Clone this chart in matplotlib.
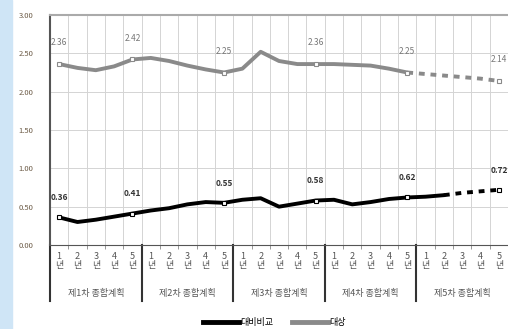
import numpy as np
import matplotlib.pyplot as plt
from matplotlib.lines import Line2D
from matplotlib.patches import Rectangle

plt.rcParams['font.family'] = ['Noto Sans CJK KR', 'DejaVu Sans']

plans = ['제1차 종합계획', '제2차 종합계획', '제3차 종합계획', '제4차 종합계획', '제5차 종합계획']
years = ['1년', '2년', '3년', '4년', '5년']

# 대상 (gray) and 대비비교 (black), one value per plan year
target = [2.36, 2.31, 2.28, 2.33, 2.42,
          2.44, 2.40, 2.34, 2.29, 2.25,
          2.30, 2.52, 2.40, 2.36, 2.36,
          2.36, 2.35, 2.34, 2.30, 2.25,
          2.23, 2.21, 2.19, 2.17, 2.14]
compare = [0.36, 0.30, 0.33, 0.37, 0.41,
           0.45, 0.48, 0.53, 0.56, 0.55,
           0.59, 0.61, 0.50, 0.54, 0.58,
           0.59, 0.53, 0.56, 0.60, 0.62,
           0.63, 0.65, 0.68, 0.70, 0.72]
solid_end_target = 19
solid_end_compare = 21
labelled = [0, 4, 9, 14, 19, 24]

n = len(target)
x = np.arange(n)

fig = plt.figure(figsize=(5.08, 3.29), dpi=100)
fig.patches.append(Rectangle((0, 0), 12 / 508, 1, transform=fig.transFigure,
                             color='#cfe5f6', zorder=0))
ax = fig.add_axes([50 / 508, 1 - 245 / 329, 458 / 508, 230 / 329])

ax.set_xlim(-0.5, n - 0.5)
ax.set_ylim(0, 3)
ax.set_yticks(np.arange(0, 3.01, 0.5))
ax.set_yticklabels([f'{v:.2f}' for v in np.arange(0, 3.01, 0.5)],
                   fontsize=5.5, color='#6b5a45')
ax.set_xticks(np.arange(-0.5, n, 1), minor=True)
ax.set_xticks(x)
ax.set_xticklabels(['\n'.join(y) for y in years * len(plans)],
                   fontsize=6.5, color='#555555', linespacing=1.05)
ax.tick_params(axis='x', which='major', length=0, pad=5)
ax.tick_params(axis='x', which='minor', length=3, color='#888888')
ax.tick_params(axis='y', length=0, pad=12)
ax.grid(True, which='minor', axis='x', color='#d4d4d4', lw=0.7)
ax.grid(True, which='major', axis='y', color='#d4d4d4', lw=0.7)
ax.set_axisbelow(True)
ax.spines['right'].set_visible(False)
ax.spines['left'].set_color('#555555')
ax.spines['left'].set_linewidth(1.5)
ax.spines['bottom'].set_color('#555555')
ax.spines['top'].set_color('#aaaaaa')
ax.spines['top'].set_linewidth(1.5)

gray = '#8a8a8a'
ax.plot(x[:solid_end_target + 1], target[:solid_end_target + 1], color=gray, lw=2.8,
        solid_capstyle='round')
ax.plot(x[solid_end_target:], target[solid_end_target:], color=gray, lw=2.8,
        ls=(0, (1.5, 1.5)))
ax.plot(x[:solid_end_compare + 1], compare[:solid_end_compare + 1], color='black', lw=2.8,
        solid_capstyle='round')
ax.plot(x[solid_end_compare:], compare[solid_end_compare:], color='black', lw=2.8,
        ls=(0, (1.5, 1.5)))

for i in labelled:
    ax.plot(x[i], target[i], 's', ms=3, mfc='white', mec=gray, mew=0.8, zorder=5)
    ax.plot(x[i], compare[i], 's', ms=3, mfc='white', mec='black', mew=0.8, zorder=5)
    ax.annotate(f'{target[i]:.2f}', (x[i], target[i]), xytext=(0, 12),
                textcoords='offset points', ha='center', va='bottom',
                fontsize=6, color='#777777')
    ax.annotate(f'{compare[i]:.2f}', (x[i], compare[i]), xytext=(0, 11),
                textcoords='offset points', ha='center', va='bottom',
                fontsize=6, color='#333333', fontweight='bold')

# plan separators and plan names under the axis
trans = ax.get_xaxis_transform()
for k, name in enumerate(plans):
    left = k * len(years) - 0.5
    ax.plot([left, left], [0, -0.245], transform=trans, color='#333333',
            lw=1.5, clip_on=False)
    ax.text(left + len(years) / 2, -0.21, name, transform=trans, ha='center',
            va='center', fontsize=6.5, color='#555555')

handles = [Line2D([], [], color='black', lw=3.5),
           Line2D([], [], color=gray, lw=3.5)]
fig.legend(handles, ['대비비교', '대상'], loc='lower center', ncol=2,
           bbox_to_anchor=(0.54, -0.02), frameon=False, fontsize=6.5,
           handlelength=4, handletextpad=0.2, columnspacing=2)

fig.savefig('out.png', dpi=100)
